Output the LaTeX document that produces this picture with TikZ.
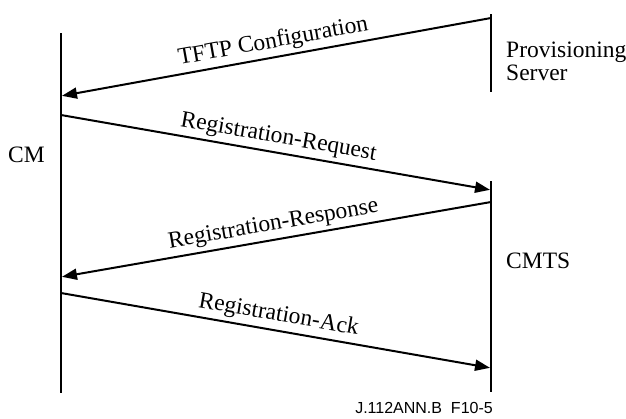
\documentclass[tikz,border=0pt]{standalone}
\usepackage{fontspec}
\setmainfont{Liberation Serif}
\newfontfamily\figsans{Liberation Sans}
\usetikzlibrary{arrows.meta,positioning}

\begin{document}
\begin{tikzpicture}[x=1pt,y=-1pt,font=\fontsize{23.5}{26}\selectfont]
        \tikzset{
            lifeline/.style={
                draw=black,
                line width=2.8pt
            },
            msgline/.style={
                -{Triangle[length=15pt,width=11pt]},
                draw=black,
                line width=2pt,
                shorten >=1pt
            },
            msglabel/.style={
                above,
                sloped,
                inner sep=3.5pt
            },
            entity/.style={
                anchor=west,
                align=left,
                inner sep=0pt
            }
        }

        \useasboundingbox (0,0) rectangle (626,418);

        % lifelines
        \coordinate (cmtop) at (61,33);
        \coordinate (cmbot) at (61,393);
        \coordinate (provtop) at (491,14);
        \coordinate (provbot) at (491,92);
        \coordinate (cmtstop) at (491,181);
        \coordinate (cmtsbot) at (491,392);

        \draw[lifeline] (cmtop) -- (cmbot);
        \draw[lifeline] (provtop) -- (provbot);
        \draw[lifeline] (cmtstop) -- (cmtsbot);

        \node[entity] (cm) at (8,155) {CM};
        \node[entity] (prov) at (506,61) {Provisioning\\[-3pt]Server};
        \node[entity] (cmts) at (506,261) {CMTS};

        % message end points
        \coordinate (tftpfrom) at (491,18);
        \coordinate (tftpto) at (61,96);
        \coordinate (reqfrom) at (61,115);
        \coordinate (reqto) at (491,190);
        \coordinate (rspfrom) at (491,202);
        \coordinate (rspto) at (61,277);
        \coordinate (ackfrom) at (61,293);
        \coordinate (ackto) at (491,368);

        \draw[msgline] (tftpfrom) --
            node[msglabel]{TFTP Configuration} (tftpto);
        \draw[msgline] (reqfrom) --
            node[msglabel]{Registration-Request} (reqto);
        \draw[msgline] (rspfrom) --
            node[msglabel]{Registration-Response} (rspto);
        \draw[msgline] (ackfrom) --
            node[msglabel]{Registration-Ack} (ackto);

        \node[font=\figsans\fontsize{16}{18}\selectfont,anchor=east,inner sep=0pt]
            (figid) at (493,408) {J.112ANN.B\ \ F10-5};
    \end{tikzpicture}
\end{document}
